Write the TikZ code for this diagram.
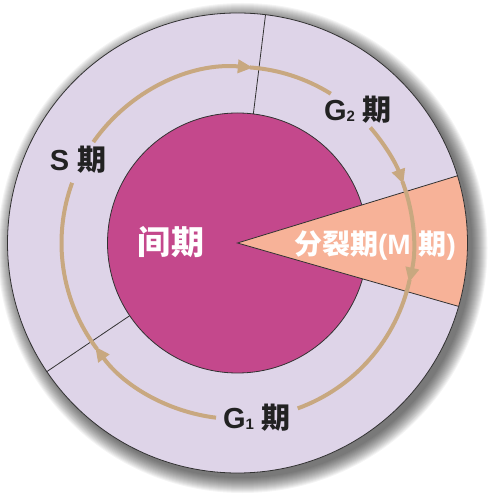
\documentclass[tikz,border=0pt]{standalone}
\usepackage{fontspec}
\setmainfont{Liberation Sans}
\newfontfamily\cjk{Noto Sans CJK SC}
\usetikzlibrary{arrows.meta}
\definecolor{ring}{RGB}{222,212,232}
\definecolor{core}{RGB}{196,72,140}
\definecolor{mwedge}{RGB}{247,178,152}
\definecolor{arrowc}{RGB}{200,168,128}
\definecolor{edgec}{RGB}{50,50,50}
\definecolor{labeltext}{RGB}{34,34,34}
\begin{document}
\begin{tikzpicture}[x=1pt,y=1pt,
  cyc/.style={arrowc,line width=4pt},
  cyctip/.style={cyc,-{Triangle[length=15pt,width=13pt]}},
  outline/.style={edgec,line width=0.8pt},
  darklabel/.style={text=labeltext,font=\bfseries\fontsize{29}{29}\selectfont,inner sep=1pt},
  whitelabel/.style={text=white,font=\bfseries\fontsize{28}{28}\selectfont,inner sep=1pt}]
\useasboundingbox (-237.5,-259) rectangle (261.5,243);
\fill[white] (-237.5,-259) rectangle (261.5,243);
% shadow
\foreach \k in {1,...,16} \fill[black,opacity=0.045] (5,-5) circle ({229+\k});
% rings
\coordinate (c) at (0,0);
\fill[ring] (c) circle (230);
\fill[core] (c) circle (130);
\draw[outline] (c) circle (130);
\fill[mwedge] (c) -- (-16:230) arc[start angle=-16,end angle=17,radius=230] -- cycle;
\draw[outline] (-16:230) -- (c) -- (17:230);
\draw[outline] (c) circle (230);
\draw[outline] (83:130) -- (83:230);
\draw[outline] (214:130) -- (214:230);
% cycle arrows
\draw[cyctip] (263:176) arc[start angle=263,end angle=216,radius=176];
\draw[cyc] (217:176) arc[start angle=217,end angle=160,radius=176];
\draw[cyctip] (145:176) arc[start angle=145,end angle=85,radius=176];
\draw[cyc] (86:176) arc[start angle=86,end angle=58,radius=176];
\draw[cyctip] (41:176) arc[start angle=41,end angle=19.5,radius=176];
\draw[cyctip] (20.5:176) arc[start angle=20.5,end angle=-13,radius=176];
\draw[cyc] (-12:176) arc[start angle=-12,end angle=-70,radius=176];
% labels
\node[darklabel] (s) at (-159.5,83) {S {\cjk 期}};
\node[darklabel] (g2) at (120.5,133) {G\raisebox{-1pt}{\fontsize{15}{15}\selectfont 2} {\cjk 期}};
\node[darklabel] (g1) at (19.5,-175) {G\raisebox{-1pt}{\fontsize{15}{15}\selectfont 1} {\cjk 期}};
\node[whitelabel,font=\bfseries\fontsize{33}{33}\selectfont] (inter) at (-66.5,1) {\cjk 间期};
\node[whitelabel] (m) at (137.5,-3) {{\cjk 分裂期}(M {\cjk 期})};
\end{tikzpicture}
\end{document}
